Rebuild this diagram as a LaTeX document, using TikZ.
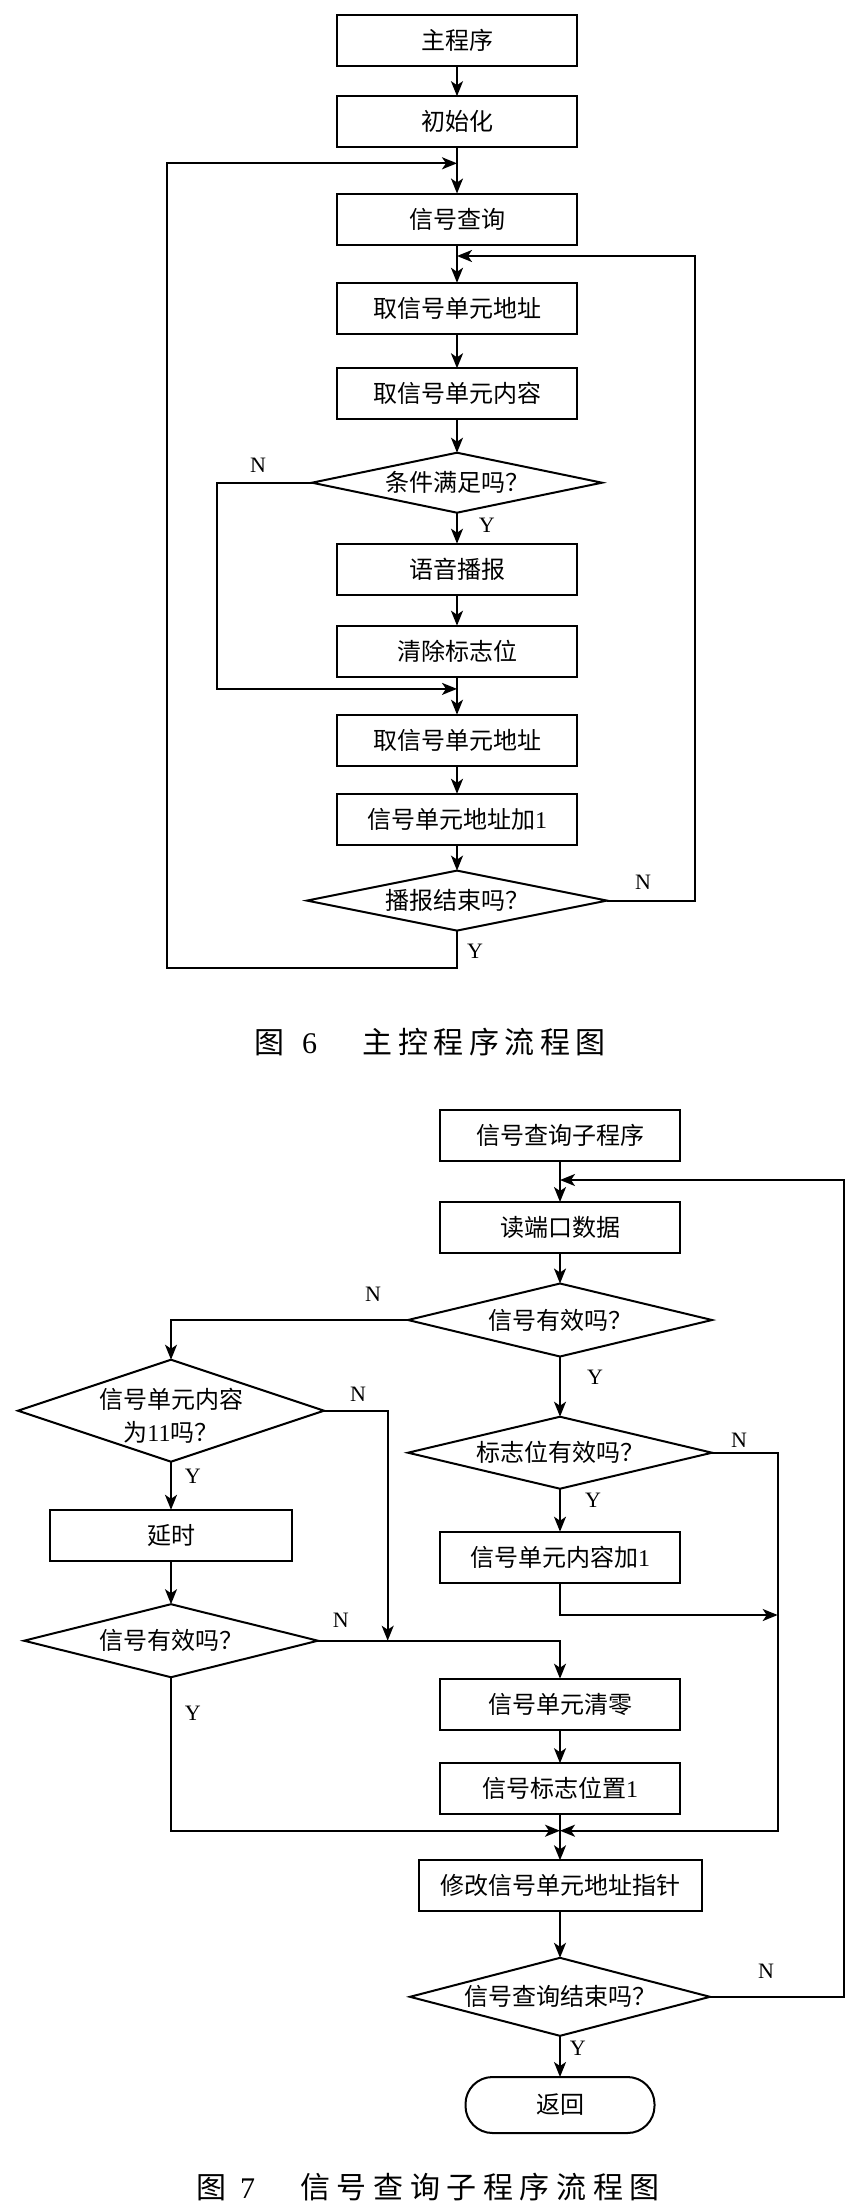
\documentclass[tikz,border=0pt]{standalone}
\usepackage{fontspec}
\setmainfont{Liberation Serif}
\newfontfamily\cjk{Noto Sans CJK SC}
\usetikzlibrary{shapes.geometric,arrows.meta}
\newcommand\capch[2]{\makebox[#1]{\cjk #2}}
\begin{document}
\begin{tikzpicture}[x=1pt,y=-1pt,
  every node/.style={inner sep=0pt, outer sep=0pt},
  proc/.style={draw, line width=2pt, minimum width=240pt, minimum height=51pt, font=\fontsize{24}{30}\selectfont\cjk},
  dia/.style={draw, diamond, line width=2pt},
  dtext/.style={font=\fontsize{24}{33}\selectfont\cjk, align=center},
  lbl/.style={font=\fontsize{22}{26}\selectfont},
  capt/.style={font=\fontsize{30}{34}\selectfont, anchor=west},
  ln/.style={line width=2pt},
  arr/.style={line width=2pt, -{Stealth[length=15pt,width=12pt,inset=4pt]}},
]
\fill[white] (0,0) rectangle (861,2208);
\useasboundingbox (0,0) rectangle (861,2208);

% ---------------- Figure 6 ----------------
\node[proc] (m0) at (457,40.3) {主程序};
\node[proc] (m1) at (457,121.7) {初始化};
\node[proc] (m2) at (457,219) {信号查询};
\node[proc] (m3) at (457,308.3) {取信号单元地址};
\node[proc] (m4) at (457,393.8) {取信号单元内容};
\node[dia, minimum width=290pt, minimum height=60pt] (d1) at (457,482.7) {};
\node[dtext] (d1t) at (d1) {条件满足吗？};
\node[proc] (m5) at (457,569.2) {语音播报};
\node[proc] (m6) at (457,651.2) {清除标志位};
\node[proc] (m7) at (457,740.2) {取信号单元地址};
\node[proc] (m8) at (457,819.3) {信号单元地址加{\rmfamily 1}};
\node[dia, minimum width=300pt, minimum height=60pt] (d2) at (457,900.6) {};
\node[dtext] (d2t) at (d2) {播报结束吗？};

\coordinate (j1) at (457,163.3);
\coordinate (j2) at (457,256);
\coordinate (j3) at (457,688.9);

\draw[arr] (m0.south) -- (m1.north);
\draw[arr] (m1.south) -- (m2.north);
\draw[arr] (m2.south) -- (m3.north);
\draw[arr] (m3.south) -- (m4.north);
\draw[arr] (m4.south) -- (d1.north);
\draw[arr] (d1.south) -- (m5.north);
\draw[arr] (m5.south) -- (m6.north);
\draw[arr] (m6.south) -- (m7.north);
\draw[arr] (m7.south) -- (m8.north);
\draw[arr] (m8.south) -- (d2.north);
\draw[arr] (d2.south) |- (167.3,968) |- (j1);
\draw[arr] (d2.east) -| (695,256) -- (j2);
\draw[arr] (d1.west) -| (216.7,688.9) -- (j3);

\node[lbl] (n1) at (258,465) {N};
\node[lbl] (y1) at (486.7,525.5) {Y};
\node[lbl] (n2) at (643,882) {N};
\node[lbl] (y2) at (475,951.5) {Y};

\node[capt] (cap1) at (254,1042) {{\cjk 图}\hspace{18pt}6\hspace{43pt}\capch{35.5pt}{主}\capch{35.5pt}{控}\capch{35.5pt}{程}\capch{35.5pt}{序}\capch{35.5pt}{流}\capch{35.5pt}{程}\capch{35.5pt}{图}};

% ---------------- Figure 7 ----------------
\node[proc] (s0) at (560,1135.3) {信号查询子程序};
\node[proc] (s1) at (560,1227.5) {读端口数据};
\node[dia, minimum width=304pt, minimum height=73pt] (dA) at (560,1320) {};
\node[dtext] (dAt) at (dA) {信号有效吗？};
\node[dia, minimum width=304pt, minimum height=72pt] (dB) at (560,1452.7) {};
\node[dtext] (dBt) at (dB) {标志位有效吗？};
\node[proc] (s2) at (560,1557.2) {信号单元内容加{\rmfamily 1}};
\node[proc] (s3) at (560,1704.2) {信号单元清零};
\node[proc] (s4) at (560,1788.7) {信号标志位置{\rmfamily 1}};
\node[proc, minimum width=283pt] (s5) at (560,1885.8) {修改信号单元地址指针};
\node[dia, minimum width=300pt, minimum height=78pt] (dE) at (560,1996.8) {};
\node[dtext] (dEt) at (dE) {信号查询结束吗？};
\node[proc, minimum width=189pt, minimum height=56pt, rounded corners=27pt] (ret) at (560,2105) {返回};

\node[dia, minimum width=306pt, minimum height=102pt] (dC) at (171,1410.7) {};
\node[dtext] (dCt) at (171,1416) {信号单元内容\\为{\rmfamily 11}吗？};
\node[proc, minimum width=242pt] (s6) at (171,1535.3) {延时};
\node[dia, minimum width=294pt, minimum height=73pt] (dD) at (171,1640.7) {};
\node[dtext] (dDt) at (dD) {信号有效吗？};

\coordinate (j4) at (560,1180);
\coordinate (j5) at (777.7,1615);
\coordinate (j6) at (560,1830.7);
\coordinate (j7) at (387.7,1640.7);

\draw[arr] (s0.south) -- (s1.north);
\draw[arr] (s1.south) -- (dA.north);
\draw[arr] (dA.south) -- (dB.north);
\draw[arr] (dB.south) -- (s2.north);
\draw[arr] (s2.south) |- (j5);
\draw[arr] (dB.east) -| (777.7,1830.7) -- (j6);
\draw[arr] (dA.west) -| (dC.north);
\draw[arr] (dC.east) -| (j7);
\draw[arr] (dC.south) -- (s6.north);
\draw[arr] (s6.south) -- (dD.north);
\draw[arr] (dD.east) -| (s3.north);
\draw[arr] (dD.south) |- (j6);
\draw[arr] (s3.south) -- (s4.north);
\draw[arr] (s4.south) -- (s5.north);
\draw[arr] (s5.south) -- (dE.north);
\draw[arr] (dE.south) -- (ret.north);
\draw[arr] (dE.east) -| (844,1180) -- (j4);

\node[lbl] (n3) at (373,1294) {N};
\node[lbl] (y3) at (595,1377) {Y};
\node[lbl] (n4) at (739,1440) {N};
\node[lbl] (y4) at (593,1500) {Y};
\node[lbl] (n5) at (358,1394) {N};
\node[lbl] (y5) at (192.7,1476.7) {Y};
\node[lbl] (n6) at (340.7,1620.7) {N};
\node[lbl] (y6) at (192.7,1713.3) {Y};
\node[lbl] (n7) at (766,1971.7) {N};
\node[lbl] (y7) at (577.8,2048.7) {Y};

\node[capt] (cap2) at (196,2187) {{\cjk 图}\hspace{14pt}7\hspace{42pt}\capch{36.6pt}{信}\capch{36.6pt}{号}\capch{36.6pt}{查}\capch{36.6pt}{询}\capch{36.6pt}{子}\capch{36.6pt}{程}\capch{36.6pt}{序}\capch{36.6pt}{流}\capch{36.6pt}{程}\capch{36.6pt}{图}};
\end{tikzpicture}
\end{document}
